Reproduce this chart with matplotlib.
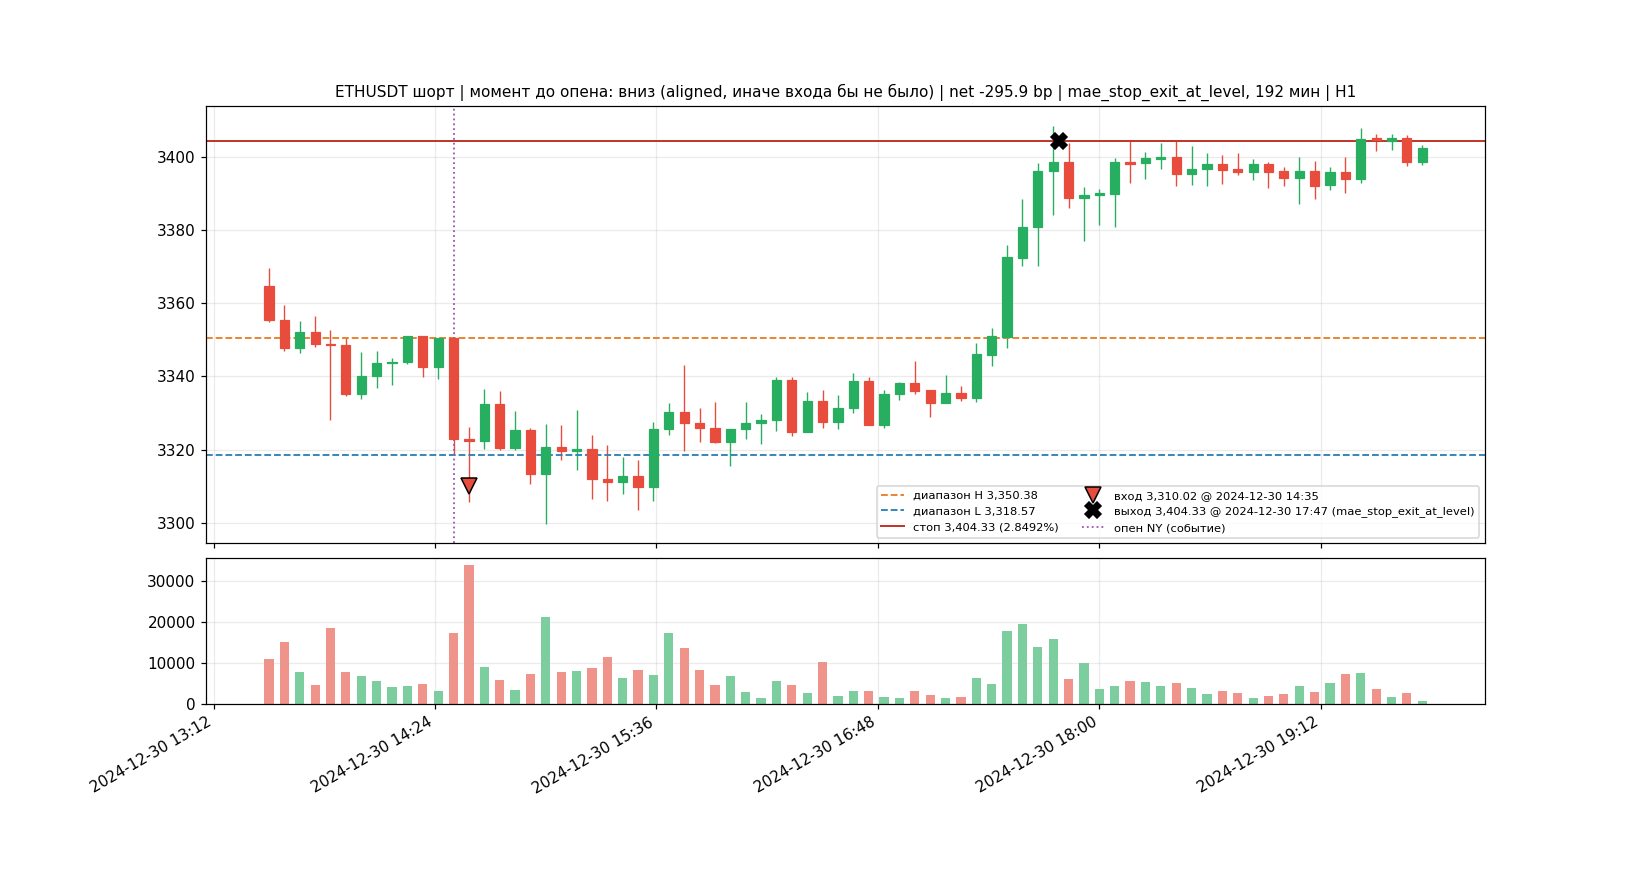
import matplotlib
matplotlib.use('Agg')
import matplotlib.pyplot as plt
import matplotlib.dates as mdates
import pandas as pd
import numpy as np

# 5-минутные свечи ETHUSDT, 2024-12-30
times = pd.date_range('2024-12-30 13:30', periods=76, freq='5min')

opens = [3364.6, 3355.3, 3347.7, 3352.0, 3348.8, 3348.5, 3335.1, 3340.1, 3343.6, 3343.9,
         3350.9, 3342.5, 3350.4, 3322.8, 3322.3, 3332.4, 3320.4, 3325.3, 3313.2, 3320.7,
         3319.7, 3320.2, 3311.9, 3311.2, 3312.8, 3309.8, 3325.6, 3330.2, 3327.3, 3326.0,
         3322.2, 3325.6, 3327.2, 3328.0, 3339.05, 3324.7, 3333.3, 3327.4, 3331.3, 3338.8,
         3326.6, 3335.1, 3338.2, 3336.3, 3332.6, 3335.5, 3334.0, 3345.9, 3350.85, 3372.4,
         3380.9, 3396.1, 3398.6, 3388.8, 3389.5, 3389.8, 3398.6, 3398.2, 3399.35, 3400.0,
         3395.35, 3396.6, 3397.9, 3396.5, 3395.9, 3397.9, 3396.0, 3394.3, 3396.0, 3392.2,
         3395.7, 3393.9, 3405.0, 3404.4, 3405.2, 3398.5]
highs = [3369.6, 3359.5, 3355.1, 3356.5, 3352.7, 3350.7, 3346.6, 3346.9, 3345.0, 3351.0,
         3351.0, 3350.5, 3350.5, 3326.2, 3336.6, 3336.0, 3330.6, 3326.0, 3327.1, 3326.8,
         3330.9, 3324.1, 3321.3, 3318.1, 3317.2, 3327.5, 3332.8, 3343.1, 3331.4, 3333.1,
         3325.7, 3333.1, 3329.8, 3339.9, 3339.9, 3335.7, 3336.4, 3334.8, 3340.8, 3339.9,
         3336.4, 3338.5, 3344.3, 3336.3, 3340.5, 3337.4, 3349.0, 3353.2, 3375.8, 3388.4,
         3398.2, 3408.5, 3403.6, 3391.6, 3391.1, 3399.5, 3404.5, 3401.2, 3403.6, 3404.5,
         3402.8, 3400.9, 3400.35, 3400.9, 3399.3, 3398.5, 3397.3, 3399.9, 3398.8, 3397.2,
         3399.8, 3407.9, 3406.3, 3406.3, 3405.8, 3403.1]
lows = [3354.8, 3347.0, 3346.5, 3348.1, 3328.2, 3334.5, 3333.7, 3336.7, 3337.5, 3343.5,
        3339.9, 3339.4, 3318.4, 3305.7, 3320.1, 3319.8, 3319.8, 3310.7, 3299.8, 3317.1,
        3314.3, 3306.6, 3305.9, 3307.8, 3303.4, 3305.9, 3323.9, 3319.5, 3322.2, 3321.9,
        3315.4, 3323.0, 3321.6, 3325.1, 3323.8, 3324.7, 3326.0, 3325.5, 3330.1, 3326.6,
        3325.9, 3333.6, 3335.1, 3329.0, 3332.6, 3333.4, 3333.0, 3342.9, 3347.8, 3370.2,
        3370.2, 3384.0, 3385.9, 3377.0, 3381.4, 3380.8, 3392.9, 3393.8, 3396.5, 3392.0,
        3392.2, 3392.0, 3392.5, 3395.0, 3393.5, 3391.4, 3392.0, 3387.0, 3388.4, 3390.9,
        3390.0, 3392.8, 3401.5, 3401.8, 3397.4, 3397.7]
closes = [3355.3, 3347.7, 3352.0, 3348.7, 3348.5, 3335.1, 3340.1, 3343.6, 3343.9, 3350.9,
          3342.5, 3350.4, 3322.9, 3322.4, 3332.4, 3320.4, 3325.3, 3313.2, 3320.7, 3319.6,
          3320.2, 3312.0, 3311.2, 3312.8, 3309.8, 3325.6, 3330.2, 3327.2, 3325.8, 3322.2,
          3325.7, 3327.3, 3328.1, 3339.05, 3324.7, 3333.3, 3327.4, 3331.4, 3338.8, 3326.6,
          3335.2, 3338.2, 3336.1, 3332.7, 3335.5, 3334.0, 3346.1, 3350.95, 3372.5, 3380.9,
          3396.2, 3398.6, 3388.8, 3389.5, 3390.0, 3398.6, 3398.0, 3399.5, 3399.9, 3395.35,
          3396.7, 3397.9, 3396.4, 3395.9, 3397.9, 3395.9, 3394.3, 3396.0, 3392.1, 3395.7,
          3393.9, 3404.9, 3404.5, 3405.2, 3398.5, 3402.3]
volumes = [10980, 15120, 7800, 4630, 18540, 7800, 6830, 5610, 4150, 4390,
           4880, 3170, 17320, 33900, 9020, 5850, 3410, 7320, 21220, 7800,
           8050, 8780, 11460, 6340, 8290, 7070, 17320, 13660, 8290, 4630,
           6830, 2930, 1460, 5610, 4630, 2680, 10240, 1950, 3170, 3170,
           1710, 1460, 3170, 2200, 1460, 1710, 6340, 4880, 17800, 19510,
           13900, 15850, 6100, 10000, 3660, 4390, 5610, 5370, 4390, 5120,
           3900, 2440, 3170, 2680, 1460, 1950, 2440, 4390, 2930, 5120,
           7320, 7560, 3660, 1710, 2680, 730]

range_high = 3350.38
range_low = 3318.57
stop_price = 3404.33
stop_pct = 2.8492
entry_price = 3310.02
entry_time = pd.Timestamp('2024-12-30 14:35')
exit_price = 3404.33
exit_time = pd.Timestamp('2024-12-30 17:47')
ny_open = pd.Timestamp('2024-12-30 14:30')

GREEN = '#27ae60'
RED = '#e74c3c'

df = pd.DataFrame({'open': opens, 'high': highs, 'low': lows, 'close': closes,
                   'volume': volumes}, index=times)
x = mdates.date2num(df.index.to_pydatetime())
up = df['close'] >= df['open']
colors = np.where(up, GREEN, RED)
w = 0.6 * (5 / 1440)

fig, (ax, axv) = plt.subplots(2, 1, figsize=(15, 8), dpi=110, sharex=True,
                              gridspec_kw={'height_ratios': [3, 1], 'hspace': 0.05})

# свечи
ax.vlines(x, df['low'], df['high'], colors=colors, linewidth=0.9, zorder=2)
body_bottom = np.minimum(df['open'], df['close'])
body_h = np.abs(df['close'] - df['open'])
ax.bar(x, body_h, bottom=body_bottom, width=w, color=colors, edgecolor=colors,
       linewidth=0.8, zorder=3)

ax.axhline(range_high, color='#e67e22', linestyle='--', linewidth=1.2,
           label=f'диапазон H {range_high:,.2f}')
ax.axhline(range_low, color='#2980b9', linestyle='--', linewidth=1.2,
           label=f'диапазон L {range_low:,.2f}')
ax.axhline(stop_price, color='#c0392b', linestyle='-', linewidth=1.3,
           label=f'стоп {stop_price:,.2f} ({stop_pct:.4f}%)')
ax.plot(mdates.date2num(entry_time.to_pydatetime()), entry_price, marker='v',
        markersize=11, color=RED, markeredgecolor='black', linestyle='none', zorder=5,
        label=f'вход {entry_price:,.2f} @ {entry_time:%Y-%m-%d %H:%M}')
ax.plot(mdates.date2num(exit_time.to_pydatetime()), exit_price, marker='X',
        markersize=11, color='black', linestyle='none', zorder=5,
        label=f'выход {exit_price:,.2f} @ {exit_time:%Y-%m-%d %H:%M} (mae_stop_exit_at_level)')
ax.axvline(mdates.date2num(ny_open.to_pydatetime()), color='#9b59b6', linestyle=':',
           linewidth=1.2, label='опен NY (событие)')

ax.set_title('ETHUSDT шорт | момент до опена: вниз (aligned, иначе входа бы не было) | '
             'net -295.9 bp | mae_stop_exit_at_level, 192 мин | H1', fontsize=10)
ax.grid(True, alpha=0.25)
ax.legend(loc='lower right', ncol=2, fontsize=7.5)

# объём
axv.bar(x, df['volume'], width=w, color=colors, alpha=0.6)
axv.grid(True, alpha=0.25)

axv.xaxis.set_major_formatter(mdates.DateFormatter('%Y-%m-%d %H:%M'))
fig.autofmt_xdate()

fig.savefig('out.png', dpi=110)
